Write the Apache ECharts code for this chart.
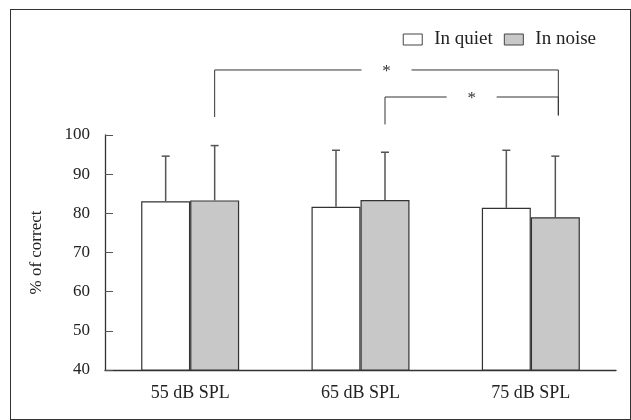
<!DOCTYPE html>
<html>
<head>
<meta charset="utf-8">
<script src="https://cdn.jsdelivr.net/npm/echarts@6/dist/echarts.min.js"></script>
<style>
  html, body { margin: 0; padding: 0; background: #fff; }
  #wrap { position: relative; width: 631px; height: 420px; }
  #chart { width: 631px; height: 420px; }
  #frame { position: absolute; left: 10px; top: 9px; width: 619px; height: 409px;
           border: 1.3px solid #333; pointer-events: none; }
</style>
</head>
<body>
<div id="wrap"><div id="chart"></div><div id="frame"></div></div>
<script>
// 3 presentation levels, % correct in quiet vs in noise, mean + upper SD bar
const levels = ['55 dB SPL', '65 dB SPL', '75 dB SPL'];
const quietMean = [83.1, 81.7, 81.4];
const quietSD = [11.5, 14.4, 14.7];
const noiseMean = [83.3, 83.4, 79.0];
const noiseSD = [14.0, 12.2, 15.6];
// significance brackets: [from level, to level, bracket height, left drop end, right drop end]
const brackets = [
  [0, 2, 116.6, 104.6, 105.0],
  [1, 2, 109.7, 102.7, 105.0],
];

const FONT = '"Liberation Serif", "DejaVu Serif", serif';
const BAR_W = 49;

const chart = echarts.init(document.getElementById('chart'));

// upward-only error bar, drawn at the middle of the quiet (-0.5) or noise (+0.5) bar
function errorBar(side) {
  return (params, api) => {
    const base = api.coord([api.value(0), api.value(1)]);
    const top = api.coord([api.value(0), api.value(1) + api.value(2)]);
    const x = base[0] + side * BAR_W;
    const style = { stroke: '#555', lineWidth: 1.5 };
    return {
      type: 'group',
      children: [
        { type: 'line', shape: { x1: x, y1: base[1], x2: x, y2: top[1] }, style },
        { type: 'line', shape: { x1: x - 4, y1: top[1], x2: x + 4, y2: top[1] }, style },
      ],
    };
  };
}

function bracket(params, api) {
  const xl = api.coord([api.value(0), 0])[0] + 0.5 * BAR_W;
  const xr = api.coord([api.value(1), 0])[0] + 0.5 * BAR_W + 3;
  const y = api.coord([0, api.value(2)])[1];
  const yl = api.coord([0, api.value(3)])[1];
  const yr = api.coord([0, api.value(4)])[1];
  const mid = (xl + xr) / 2;
  const gap = 25;
  const style = { stroke: '#333', lineWidth: 1, fill: null };
  return {
    type: 'group',
    children: [
      { type: 'polyline', shape: { points: [[xl, yl], [xl, y], [mid - gap, y]] }, style },
      { type: 'polyline', shape: { points: [[mid + gap, y], [xr, y], [xr, yr]] }, style },
      { type: 'text', x: mid, y: y + 2,
        style: { text: '*', font: '17px ' + FONT, fill: '#333', align: 'center', verticalAlign: 'middle' } },
    ],
  };
}

chart.setOption({
  animation: false,
  backgroundColor: '#fff',
  textStyle: { fontFamily: FONT },
  grid: { left: 105, top: 135, bottom: 50, width: 511 },
  legend: {
    top: 25, right: 30,
    itemWidth: 19, itemHeight: 11, itemGap: 11,
    icon: 'rect',
    itemStyle: { borderWidth: 1, borderColor: '#444' },
    textStyle: { fontFamily: FONT, fontSize: 19, color: '#222', padding: [0, 0, 0, 7] },
    data: ['In quiet', 'In noise'],
    selectedMode: false,
  },
  xAxis: {
    type: 'category',
    data: levels,
    axisLine: { lineStyle: { color: '#333', width: 1.3 } },
    axisTick: { show: false },
    axisLabel: { color: '#222', fontSize: 18, fontFamily: FONT, margin: 14 },
  },
  yAxis: {
    type: 'value',
    min: 40, max: 100, interval: 10,
    name: '% of correct',
    nameLocation: 'middle',
    nameGap: 60,
    nameTextStyle: { color: '#222', fontSize: 17, fontFamily: FONT },
    axisLine: { show: true, lineStyle: { color: '#333', width: 1.3 } },
    axisTick: { show: true, inside: true, length: 8, lineStyle: { color: '#555' } },
    axisLabel: { color: '#222', fontSize: 17, fontFamily: FONT, margin: 15 },
    splitLine: { show: false },
  },
  series: [
    {
      name: 'In quiet', type: 'bar', data: quietMean,
      barWidth: BAR_W, barGap: 0,
      itemStyle: { color: '#fff', borderColor: '#333', borderWidth: 1.2 },
      emphasis: { disabled: true },
    },
    {
      name: 'In noise', type: 'bar', data: noiseMean,
      barWidth: BAR_W, barGap: 0,
      itemStyle: { color: '#c8c8c8', borderColor: '#333', borderWidth: 1.2 },
      emphasis: { disabled: true },
    },
    {
      type: 'custom', renderItem: errorBar(-0.5), z: 3,
      data: quietMean.map((m, i) => [i, m, quietSD[i]]),
    },
    {
      type: 'custom', renderItem: errorBar(0.5), z: 3,
      data: noiseMean.map((m, i) => [i, m, noiseSD[i]]),
    },
    {
      type: 'custom', renderItem: bracket, z: 3, clip: false,
      data: brackets,
    },
  ],
});
</script>
</body>
</html>
